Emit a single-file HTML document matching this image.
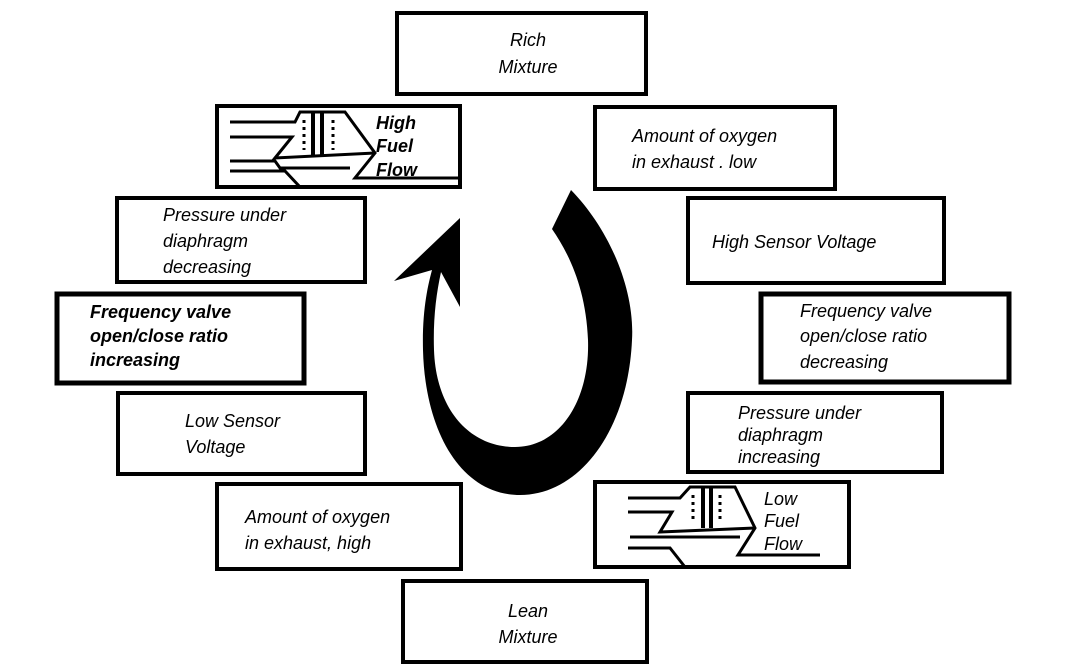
<!DOCTYPE html>
<html><head><style>
html,body{margin:0;padding:0;background:#fff;}
svg{display:block;}
text{font-family:"Liberation Sans",sans-serif;font-style:italic;font-size:18px;fill:#000;}
.b{font-weight:bold;}
rect{fill:#fff;stroke:#000;stroke-width:4;}
</style></head><body>
<svg width="1072" height="668" viewBox="0 0 1072 668" xmlns="http://www.w3.org/2000/svg">
<rect x="397" y="13" width="249" height="81"/>
<text x="528" y="46" text-anchor="middle">Rich</text>
<text x="528" y="73" text-anchor="middle">Mixture</text>

<rect x="217" y="106" width="243" height="81"/>
<g stroke="#000" stroke-width="3" fill="none">
<path d="M230,122 L295,122 L300,112 L345,112 L375,153 L355,178 L460,178"/>
<path d="M230,137 L292,137 L275,158 L375,153"/>
<path d="M230,161 L275,161 L280,168 L350,168"/>
<path d="M230,171 L285,171 L300,187"/>
<path d="M313,112 L313,155 M322,112 L322,155" stroke-width="4"/>
<path d="M304,120 L304,150 M333,120 L333,150" stroke-dasharray="3,4"/>
</g>
<text class="b" x="376" y="129">High</text>
<text class="b" x="376" y="152">Fuel</text>
<text class="b" x="376" y="176">Flow</text>

<rect x="595" y="107" width="240" height="82"/>
<text x="632" y="142">Amount of oxygen</text>
<text x="632" y="168">in exhaust . low</text>

<rect x="117" y="198" width="248" height="84"/>
<text x="163" y="221">Pressure under</text>
<text x="163" y="247">diaphragm</text>
<text x="163" y="273">decreasing</text>

<rect x="688" y="198" width="256" height="85"/>
<text x="712" y="248">High Sensor Voltage</text>

<rect x="57" y="294" width="247" height="89" style="stroke-width:5"/>
<text class="b" x="90" y="318">Frequency valve</text>
<text class="b" x="90" y="342">open/close ratio</text>
<text class="b" x="90" y="366">increasing</text>

<rect x="761" y="294" width="248" height="88" style="stroke-width:5"/>
<text x="800" y="317">Frequency valve</text>
<text x="800" y="342">open/close ratio</text>
<text x="800" y="368">decreasing</text>

<rect x="118" y="393" width="247" height="81"/>
<text x="185" y="427">Low Sensor</text>
<text x="185" y="453">Voltage</text>

<rect x="688" y="393" width="254" height="79"/>
<text x="738" y="419">Pressure under</text>
<text x="738" y="441">diaphragm</text>
<text x="738" y="463">increasing</text>

<rect x="217" y="484" width="244" height="85"/>
<text x="245" y="523">Amount of oxygen</text>
<text x="245" y="549">in exhaust, high</text>

<rect x="595" y="482" width="254" height="85"/>
<g stroke="#000" stroke-width="3" fill="none">
<path d="M628,498 L680,498 L690,487 L735,487 L755,528 L738,555 L820,555"/>
<path d="M628,512 L672,512 L660,532 L755,528"/>
<path d="M630,537 L740,537"/>
<path d="M628,548 L670,548 L685,567"/>
<path d="M703,487 L703,528 M711,487 L711,528" stroke-width="4"/>
<path d="M693,495 L693,522 M720,495 L720,522" stroke-dasharray="3,4"/>
</g>
<text x="764" y="505">Low</text>
<text x="764" y="527">Fuel</text>
<text x="764" y="550">Flow</text>

<rect x="403" y="581" width="244" height="81"/>
<text x="528" y="617" text-anchor="middle">Lean</text>
<text x="528" y="643" text-anchor="middle">Mixture</text>

<path fill="#000" d="M571,190 C610,230 635,290 632,340 C628,430 580,495 520,495 C460,495 425,430 423,350 C422,310 428,285 432,270 L394,281 L460,218 L460,307 L441,272 C436,295 433,320 434,350 C436,410 470,447 515,447 C560,447 590,400 588,340 C586,290 570,255 552,229 Z"/>
</svg>
</body></html>
